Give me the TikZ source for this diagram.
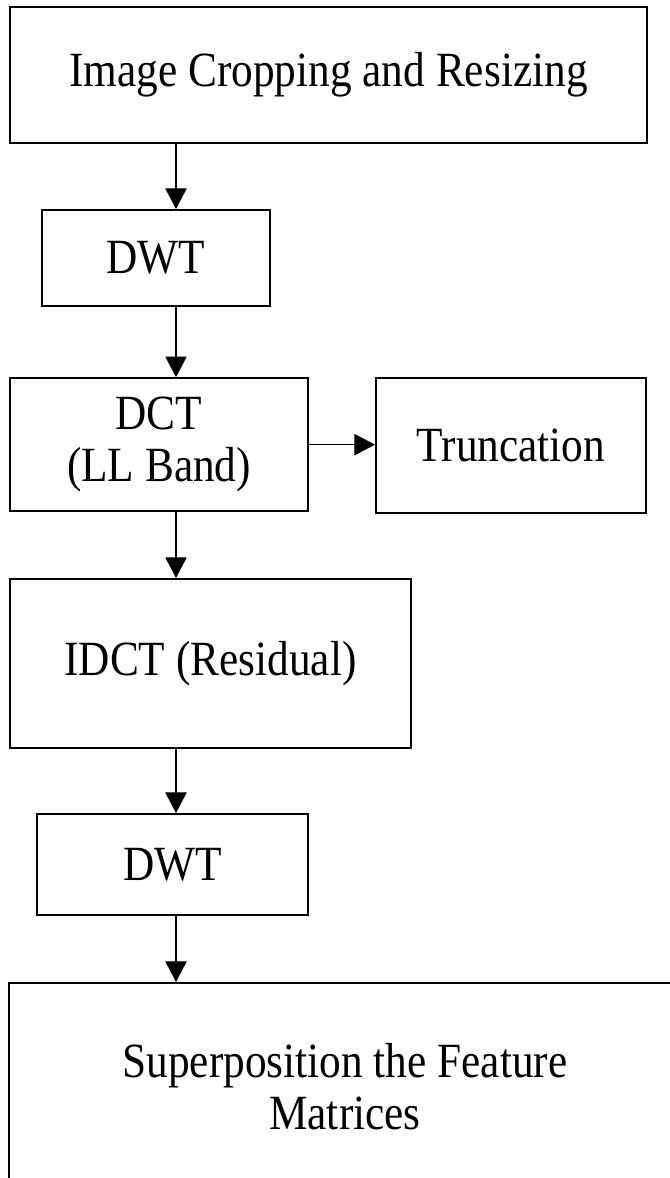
\documentclass[tikz,border=0pt]{standalone}
\usepackage{fontspec}
\setmainfont{Liberation Serif}[FakeStretch=0.88]
\usetikzlibrary{arrows.meta}

\begin{document}
\begin{tikzpicture}[
    block/.style={rectangle, draw, line width=1.7pt, align=center, inner sep=0pt, font=\fontsize{42}{44.5}\selectfont},
    arrow/.style={-{Triangle[width=0.64cm, length=0.62cm]}, line width=1.1pt}
]

% Page frame
\useasboundingbox (0, 0) rectangle (20.1, -35.34);
\clip (0, 0) rectangle (20.1, -35.34);

% Arrow column
\coordinate (col) at (5.28, 0);

% Stages
\node[block, minimum width=19.11cm, minimum height=4.08cm] (crop) at (9.855, -2.25) {Image Cropping and Resizing};
\node[block, minimum width=6.84cm, minimum height=2.88cm] (dwt1) at (4.68, -7.74) {DWT};
\node[block, minimum width=8.94cm, minimum height=3.99cm] (dct) at (4.77, -13.34) {DCT\\(LL Band)};
\node[block, minimum width=8.1cm, minimum height=4.05cm] (trunc) at (15.33, -13.365) {Truncation};
\node[block, minimum width=12.03cm, minimum height=5.07cm] (idct) at (6.315, -19.905) {IDCT (Residual)};
\node[block, minimum width=8.13cm, minimum height=3.03cm] (dwt2) at (5.175, -25.935) {DWT};
\node[block, minimum width=20.16cm, minimum height=6.24cm] (superpos) at (10.35, -32.61) {Superposition the Feature\\Matrices};

% Arrows
\draw[arrow] (crop.south -| col) -- (dwt1.north -| col);
\draw[arrow] (dwt1.south -| col) -- (dct.north -| col);
\draw[arrow] (dct.east) -- (trunc.west |- dct.east);
\draw[arrow] (dct.south -| col) -- (idct.north -| col);
\draw[arrow] (idct.south -| col) -- (dwt2.north -| col);
\draw[arrow] (dwt2.south -| col) -- (superpos.north -| col);

\end{tikzpicture}
\end{document}
